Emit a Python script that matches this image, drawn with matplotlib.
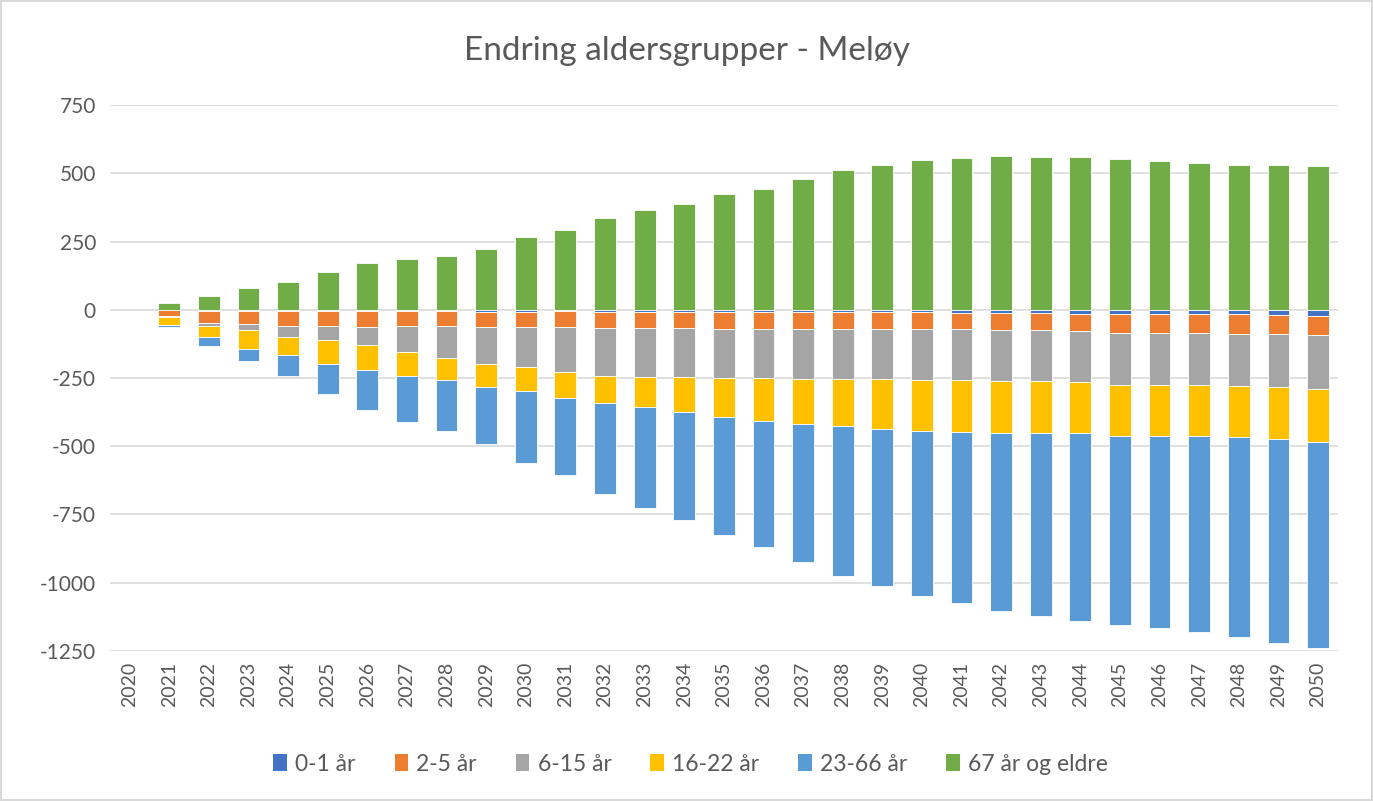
import matplotlib
matplotlib.use("Agg")
import matplotlib.pyplot as plt
import numpy as np

years = [str(y) for y in range(2020, 2051)]
series_names = ["0-1 år", "2-5 år", "6-15 år", "16-22 år", "23-66 år", "67 år og eldre"]
colors = ["#4472C4", "#ED7D31", "#A5A5A5", "#FFC000", "#5B9BD5", "#70AD47"]

age_0_1 = [0, -1, -4, -4, -4, -4, -4, -5, -5, -7, -7, -6, -7, -7, -7, -8, -8, -8, -9, -9,
           -10, -11, -11, -11, -15, -15, -15, -15, -17, -20, -24]
age_2_5 = [0, -23, -45, -50, -55, -56, -59, -56, -56, -56, -56, -57, -60, -60, -60, -62, -62, -62, -61, -61,
           -61, -60, -62, -63, -63, -69, -69, -69, -72, -70, -70]
age_6_15 = [0, -3, -11, -19, -41, -51, -65, -92, -117, -135, -146, -164, -177, -179, -181, -180, -180, -183, -184, -184,
            -185, -188, -189, -188, -187, -192, -192, -192, -191, -193, -198]
age_16_22 = [0, -30, -39, -70, -65, -87, -94, -91, -81, -86, -90, -95, -96, -110, -125, -144, -157, -164, -173, -184,
             -187, -188, -188, -188, -188, -186, -186, -186, -187, -192, -191]
age_23_66 = [0, -8, -32, -45, -78, -112, -147, -166, -184, -209, -263, -285, -334, -372, -399, -432, -462, -507, -548, -573,
             -604, -629, -652, -673, -687, -693, -705, -718, -732, -744, -756]
age_67 = [0, 25, 52, 79, 100, 138, 172, 187, 198, 223, 266, 293, 336, 366, 389, 423, 443, 479, 512, 530,
          547, 555, 564, 561, 559, 553, 545, 537, 532, 532, 527]

yticks = [750, 500, 250, 0, -250, -500, -750, -1000, -1250]

plt.rcParams['font.family'] = ['Lato', 'DejaVu Sans']

fig = plt.figure(figsize=(13.73, 8.01), dpi=100)
fig.patch.set_facecolor("white")
fig.patch.set_edgecolor("#d9d9d9")
fig.patch.set_linewidth(1.5)

ax = fig.add_axes([0.080, 0.1873, 0.8944, 0.6816])

x = np.arange(len(years))
width = 0.55


def lw_for(v):
    return [0.6 if val != 0 else 0 for val in v]


neg_series = [age_0_1, age_2_5, age_6_15, age_16_22, age_23_66]
bottom = np.zeros(len(years))
for vals, name, c in zip(neg_series, series_names[:5], colors[:5]):
    v = np.array(vals, dtype=float)
    ax.bar(x, v, width, bottom=bottom, color=c, label=name, edgecolor="white",
           linewidth=lw_for(v), zorder=3)
    bottom = bottom + v
v67 = np.array(age_67, dtype=float)
ax.bar(x, v67, width, bottom=0, color=colors[5], label=series_names[5], edgecolor="white",
       linewidth=lw_for(v67), zorder=3)

ax.set_xlim(-0.5, len(years) - 0.5)
ax.set_ylim(-1250, 750)
ax.set_yticks(yticks)
ax.set_yticklabels([str(t) for t in yticks])
ax.set_xticks(x)
ax.set_xticklabels(years, rotation=90)
ax.grid(axis="y", color="#d9d9d9", linewidth=1.2, zorder=0)
ax.set_axisbelow(True)
for s in ax.spines.values():
    s.set_visible(False)
ax.tick_params(axis="both", length=0, colors="#595959")
ax.tick_params(axis="y", pad=10, labelsize=15)
ax.tick_params(axis="x", pad=8, labelsize=14)

fig.text(0.5, 0.936, "Endring aldersgrupper - Meløy", ha="center", va="center",
         fontsize=24, color="#595959")

handles, labels = ax.get_legend_handles_labels()
leg = fig.legend(handles, labels, loc="center", bbox_to_anchor=(0.503, 0.046), ncol=6,
                 frameon=False, fontsize=16.5, handlelength=0.6, handleheight=0.8,
                 handletextpad=0.35, columnspacing=1.7)
for t in leg.get_texts():
    t.set_color("#595959")

fig.savefig("out.png", dpi=100, facecolor=fig.get_facecolor(), edgecolor=fig.get_edgecolor())
